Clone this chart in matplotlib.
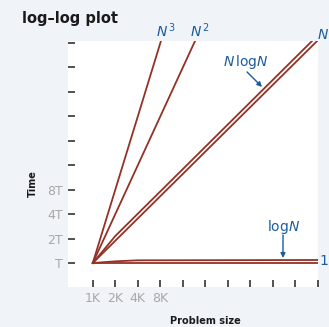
import numpy as np
import matplotlib
matplotlib.use('Agg')
from matplotlib import pyplot as plt

# problem sizes (in K) and running times (in units of T)
sizes = [1, 1024]
t_const = [1, 1]
logn_sizes = [1, 2, 4, 1024]
t_logn = [1, 1.05, 1.08, 1.09]
t_n = [1, 555]
nlogn_sizes = [1, 2, 1024]
t_nlogn = [1, 2.15, 640]
t_n2 = [1, 1024 ** 2]
t_n3 = [1, 1024 ** 3]

xticks = [2 ** k for k in range(11)]
xticklabels = ['1K', '2K', '4K', '8K'] + [''] * 7
yticks = [2 ** k for k in range(10)]
yticklabels = ['T', '2T', '4T', '8T'] + [''] * 6

W, H = 329, 327
bg = '#f0f3f7'
red = '#943126'
blue = '#1c5c9e'
gray = '#a8a8a8'

def px(x, y):
    # pixel position -> figure fraction
    return x / W, 1 - y / H

fig = plt.figure(figsize=(W / 100, H / 100), dpi=100, facecolor=bg)
ax = fig.add_axes([68 / W, 1 - 287 / H, 250 / W, 246 / H])
ax.set_facecolor('white')

ax.set_xscale('log', base=2)
ax.set_yscale('log', base=2)
ax.set_xlim(2 ** -1.1, 2 ** 10.0)
ax.set_ylim(2 ** -0.98, 2 ** 9.08)

lw = 1.3
ax.plot(sizes, t_const, color=red, lw=lw)
ax.plot(logn_sizes, t_logn, color=red, lw=lw)
ax.plot(sizes, t_n, color=red, lw=lw)
ax.plot(nlogn_sizes, t_nlogn, color=red, lw=lw)
ax.plot(sizes, t_n2, color=red, lw=lw)
ax.plot(sizes, t_n3, color=red, lw=lw)

for s in ax.spines.values():
    s.set_visible(False)

ax.set_xticks(xticks)
ax.set_xticklabels(xticklabels)
ax.set_yticks(yticks)
ax.set_yticklabels(yticklabels)
ax.minorticks_off()
ax.tick_params(direction='in', length=5, width=1.1, color='#222222',
               labelcolor=gray, labelsize=9, pad=3.6)

# curve labels
def d(xl, yl):
    return 2 ** xl, 2 ** yl

lab = dict(color=blue, fontsize=10, ha='center', va='center', clip_on=False)
ax.text(*d((166 - 92.7) / 22.53, (263 - 31) / 24.44), r'$N^{\,3}$', **lab)
ax.text(*d((200 - 92.7) / 22.53, (263 - 31) / 24.44), r'$N^{\,2}$', **lab)
ax.text(*d((323 - 92.7) / 22.53, (263 - 35) / 24.44), r'$N$', **lab)
ax.text(*d((246 - 92.7) / 22.53, (263 - 62) / 24.44), r'$N\,\mathrm{log}N$', **lab)
ax.text(*d((284 - 92.7) / 22.53, (263 - 227) / 24.44), r'$\mathrm{log}N$', **lab)
ax.text(*d((324 - 92.7) / 22.53, (263 - 261) / 24.44), '1', **lab)

arrow = dict(arrowstyle='-|>', color=blue, lw=1.0, mutation_scale=7,
             shrinkA=0, shrinkB=0)
ax.annotate('', xy=d((262 - 92.7) / 22.53, (263 - 87) / 24.44),
            xytext=d((247 - 92.7) / 22.53, (263 - 72) / 24.44),
            arrowprops=arrow, annotation_clip=False)
ax.annotate('', xy=d((283 - 92.7) / 22.53, (263 - 258) / 24.44),
            xytext=d((283 - 92.7) / 22.53, (263 - 235) / 24.44),
            arrowprops=arrow, annotation_clip=False)

fig.text(*px(22, 19), 'log\u2013log plot', fontsize=10.5, fontweight='bold',
         color='#1a1a1a', ha='left', va='center')
fig.text(*px(33, 184), 'Time', fontsize=7, fontweight='bold', color='#1a1a1a',
         rotation=90, ha='center', va='center')
fig.text(*px(205, 321), 'Problem size', fontsize=7, fontweight='bold',
         color='#1a1a1a', ha='center', va='center')

fig.savefig('out.png', dpi=100, facecolor=bg)
